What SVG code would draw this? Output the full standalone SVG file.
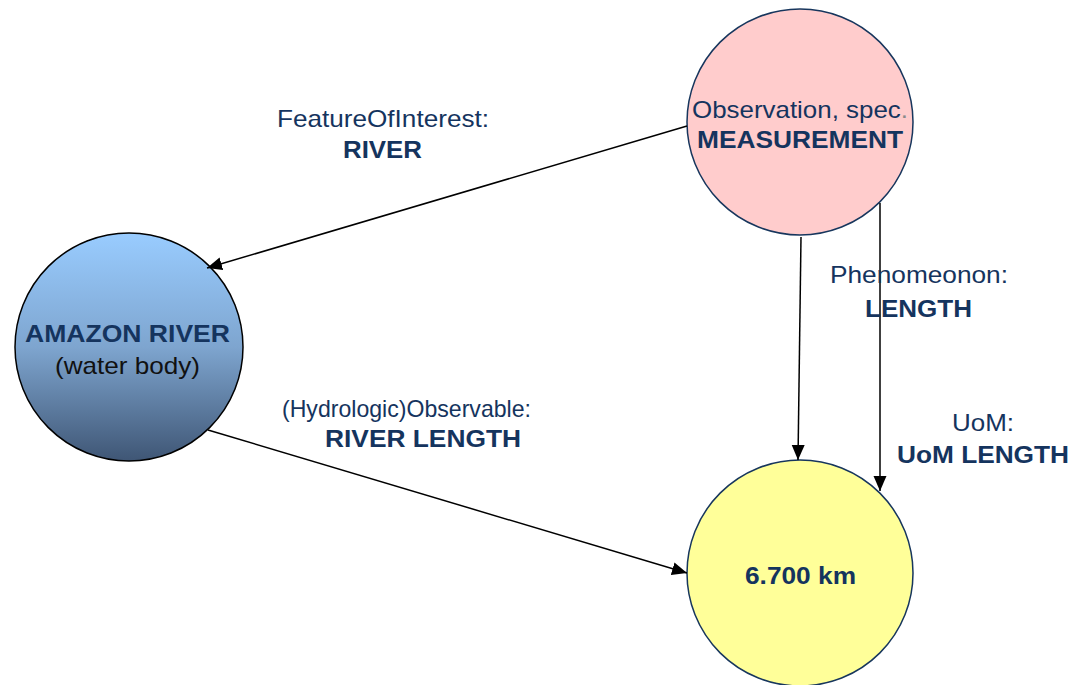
<svg xmlns="http://www.w3.org/2000/svg" width="1073" height="685" viewBox="0 0 1073 685">
  <style>
    .lbl { font-family: "Liberation Sans", Arial, sans-serif; font-size: 24px; fill: #15345e; }
    .b { font-weight: bold; }
    .dark { fill: #111111; }
    .conn { stroke: #000000; stroke-width: 1.5; fill: none; marker-end: url(#arrow); }
    .node { stroke: #17365d; stroke-width: 1.5; }
  </style>
  <defs>
    <marker id="arrow" markerUnits="userSpaceOnUse" markerWidth="16" markerHeight="14" refX="15" refY="6.5" orient="auto">
      <path d="M0,0 L15,6.5 L0,13 z" fill="#000000"/>
    </marker>
    <linearGradient id="waterFill" x1="0" y1="0" x2="0" y2="1">
      <stop offset="0" stop-color="#99ccff"/>
      <stop offset="0.5" stop-color="#7ea5cf"/>
      <stop offset="1" stop-color="#3f5675"/>
    </linearGradient>
  </defs>
  <rect width="1073" height="685" fill="#ffffff"/>

  <g id="measurement">
    <circle class="node" cx="800" cy="122" r="113" fill="#ffcccc"/>
    <text class="lbl" x="692" y="118" textLength="216" lengthAdjust="spacingAndGlyphs">Observation, spec<tspan fill="#8a8a8a">.</tspan></text>
    <text class="lbl b" x="697" y="148" textLength="206" lengthAdjust="spacingAndGlyphs">MEASUREMENT</text>
  </g>

  <g id="amazon-river">
    <circle cx="129" cy="347" r="114" fill="url(#waterFill)" stroke="#000000" stroke-width="1.5"/>
    <text class="lbl b" x="25" y="342" textLength="205" lengthAdjust="spacingAndGlyphs">AMAZON RIVER</text>
    <text class="lbl dark" x="55" y="374" textLength="145" lengthAdjust="spacingAndGlyphs">(water body)</text>
  </g>

  <g id="result">
    <circle class="node" cx="800" cy="573" r="113" fill="#ffff99"/>
    <text class="lbl b" x="745" y="584" textLength="111" lengthAdjust="spacingAndGlyphs">6.700 km</text>
  </g>

  <g id="connectors">
    <line class="conn" x1="687" y1="126" x2="207" y2="268"/>
    <line class="conn" x1="208" y1="430" x2="687" y2="573"/>
    <line class="conn" x1="801" y1="237" x2="798" y2="460"/>
    <line class="conn" x1="880" y1="203" x2="880" y2="491"/>
  </g>

  <g id="labels">
    <text class="lbl" x="277" y="127" textLength="212" lengthAdjust="spacingAndGlyphs">FeatureOfInterest:</text>
    <text class="lbl b" x="343" y="158" textLength="79" lengthAdjust="spacingAndGlyphs">RIVER</text>
    <text class="lbl" x="282" y="417" textLength="249" lengthAdjust="spacingAndGlyphs">(Hydrologic)Observable:</text>
    <text class="lbl b" x="325" y="447" textLength="196" lengthAdjust="spacingAndGlyphs">RIVER LENGTH</text>
    <text class="lbl" x="830" y="283" textLength="178" lengthAdjust="spacingAndGlyphs">Phenomeonon:</text>
    <text class="lbl b" x="865" y="317" textLength="107" lengthAdjust="spacingAndGlyphs">LENGTH</text>
    <text class="lbl" x="952" y="431" textLength="62" lengthAdjust="spacingAndGlyphs">UoM:</text>
    <text class="lbl b" x="897" y="463" textLength="172" lengthAdjust="spacingAndGlyphs">UoM LENGTH</text>
  </g>
</svg>
